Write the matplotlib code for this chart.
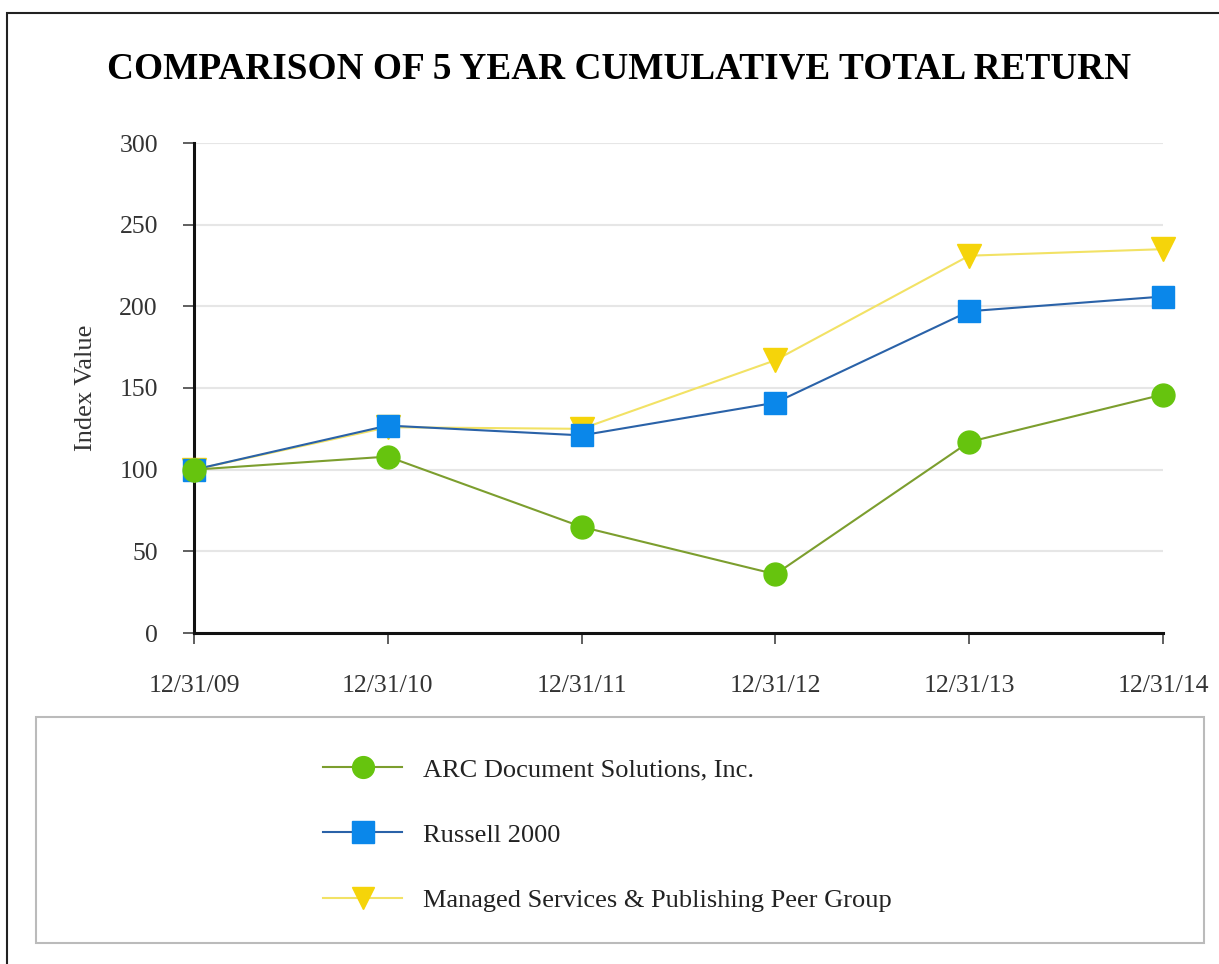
import matplotlib
matplotlib.use("Agg")
import matplotlib.pyplot as plt
from matplotlib.patches import Rectangle

plt.rcParams["font.family"] = ["Liberation Serif", "DejaVu Serif"]

# データ
dates = ["12/31/09", "12/31/10", "12/31/11", "12/31/12", "12/31/13", "12/31/14"]
arc = [100, 108, 65, 36, 117, 146]
russell = [100, 127, 121, 141, 197, 206]
peer = [100, 126, 125, 167, 231, 235]

labels = [
    "ARC Document Solutions, Inc.",
    "Russell 2000",
    "Managed Services & Publishing Peer Group",
]

W, H = 1219, 964
fig = plt.figure(figsize=(W / 100, H / 100), dpi=100)

# 外枠
fig.patches.append(Rectangle((7 / W, -0.1), 1.2, 1 - 13 / H + 0.1,
                             transform=fig.transFigure, fill=False,
                             edgecolor="#222222", lw=1.5))

ax = fig.add_axes([194 / W, 1 - 633 / H, (1163 - 194) / W, (633 - 143) / H])

x = list(range(len(dates)))

ax.plot(x, peer, "-v", color="#f2e265", lw=1.5, ms=17, clip_on=False,
        mfc="#f5d40a", mec="#f5d40a", label=labels[2], zorder=3)
ax.plot(x, russell, "-s", color="#2a62a8", lw=1.5, ms=16, clip_on=False,
        mfc="#0a87ea", mec="#0a87ea", label=labels[1], zorder=4)
ax.plot(x, arc, "-o", color="#7c9e2e", lw=1.5, ms=16.5, clip_on=False,
        mfc="#66c40e", mec="#66c40e", label=labels[0], zorder=5)

ax.set_xlim(0, len(dates) - 1)
ax.set_ylim(0, 300)
ax.set_yticks(range(0, 301, 50))
ax.set_xticks(x)
ax.set_xticklabels(dates)

ax.grid(axis="y", color="#e6e6e6", lw=1.5)
ax.set_axisbelow(True)

for side in ["top", "right"]:
    ax.spines[side].set_visible(False)
for side in ["left", "bottom"]:
    ax.spines[side].set_linewidth(2.2)
    ax.spines[side].set_color("#111111")

ax.tick_params(axis="y", length=8, width=1.2, pad=18, labelsize=18.5,
               labelcolor="#333333", color="#444444")
ax.tick_params(axis="x", length=8, width=1.2, pad=22, labelsize=18.5,
               labelcolor="#333333", color="#444444")
ax.set_ylabel("Index Value", fontsize=19, color="#333333", labelpad=16)

fig.text(619 / W, 1 - 69 / H, "COMPARISON OF 5 YEAR CUMULATIVE TOTAL RETURN",
         ha="center", va="center", fontsize=26.8, fontweight="bold")

# 凡例の枠
fig.patches.append(Rectangle((36 / W, 1 - 943 / H), (1204 - 36) / W, (943 - 717) / H,
                             transform=fig.transFigure, fill=False,
                             edgecolor="#bbbbbb", lw=1.5))

handles, _ = ax.get_legend_handles_labels()
order = [2, 1, 0]
leg = fig.legend([handles[i] for i in order], labels,
                 loc="upper left", bbox_to_anchor=(323 / W, 1 - 758 / H),
                 frameon=False, fontsize=19, labelspacing=1.58,
                 handlelength=3.0, handletextpad=0.8, borderpad=0,
                 borderaxespad=0, markerscale=0.95)
for t in leg.get_texts():
    t.set_color("#222222")

fig.savefig("out.png", dpi=100)
